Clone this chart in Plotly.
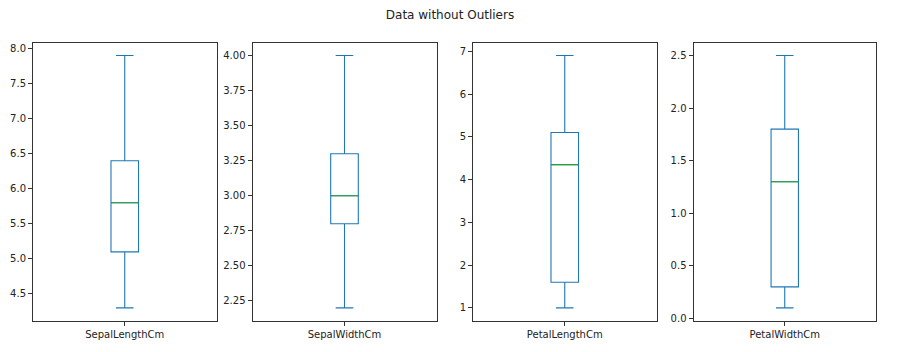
import plotly.graph_objects as go

names = ["SepalLengthCm", "SepalWidthCm", "PetalLengthCm", "PetalWidthCm"]
mins = [4.3, 2.2, 1.0, 0.1]
q1s = [5.1, 2.8, 1.6, 0.3]
medians = [5.8, 3.0, 4.35, 1.3]
q3s = [6.4, 3.3, 5.1, 1.8]
maxs = [7.9, 4.0, 6.9, 2.5]
y_dticks = [0.5, 0.25, 1, 0.5]
y_formats = [".1f", ".2f", "d", ".1f"]

W, H = 900, 352
x_px = [(33, 216.5), (252.5, 436.5), (473, 656.5), (693.5, 876)]
top_px, bot_px = 43.3, 323.3

BLUE = "#1f77b4"
GREEN = "#2ca02c"
AX = "#333333"
FONT = "DejaVu Sans"

fig = go.Figure()
box_w = 0.15
for i, name in enumerate(names):
    ax = "" if i == 0 else str(i + 1)
    fig.add_trace(go.Box(
        x=[0], q1=[q1s[i]], median=[medians[i]], q3=[q3s[i]],
        lowerfence=[mins[i]], upperfence=[maxs[i]],
        width=box_w, whiskerwidth=0.64,
        fillcolor="rgba(0,0,0,0)",
        line=dict(color=BLUE, width=1.1),
        boxpoints=False, hoverinfo="skip", showlegend=False,
        xaxis="x" + ax, yaxis="y" + ax,
    ))
    fig.add_trace(go.Scatter(
        x=[-box_w / 2, box_w / 2], y=[medians[i], medians[i]],
        mode="lines", line=dict(color=GREEN, width=1.1),
        hoverinfo="skip", showlegend=False,
        xaxis="x" + ax, yaxis="y" + ax,
    ))
    rng = maxs[i] - mins[i]
    x0, x1 = x_px[i]
    xa = dict(
        domain=[x0 / W, x1 / W], range=[-0.5, 0.5],
        tickmode="array", tickvals=[0], ticktext=[name],
        ticks="outside", ticklen=4, tickcolor=AX,
        showline=True, mirror=True, linecolor=AX, linewidth=1,
        showgrid=False, zeroline=False,
        tickfont=dict(family=FONT, size=10, color="#222"),
        anchor="y" + ax,
    )
    ya = dict(
        domain=[1 - bot_px / H, 1 - top_px / H],
        range=[mins[i] - 0.05 * rng, maxs[i] + 0.05 * rng],
        dtick=y_dticks[i], tick0=0, tickformat=y_formats[i],
        ticks="outside", ticklen=4, tickcolor=AX,
        showline=True, mirror=True, linecolor=AX, linewidth=1,
        showgrid=False, zeroline=False,
        tickfont=dict(family=FONT, size=10, color="#222"),
        anchor="x" + ax,
    )
    fig.update_layout(**{"xaxis" + ax: xa, "yaxis" + ax: ya})

fig.update_layout(
    width=W, height=H,
    margin=dict(l=0, r=0, t=0, b=0),
    paper_bgcolor="white", plot_bgcolor="white",
    title=dict(text="Data without Outliers", x=0.5, xanchor="center",
               y=1 - 15 / H, yanchor="middle",
               font=dict(family=FONT, size=12, color="#222")),
)

fig.write_html("out.html")
